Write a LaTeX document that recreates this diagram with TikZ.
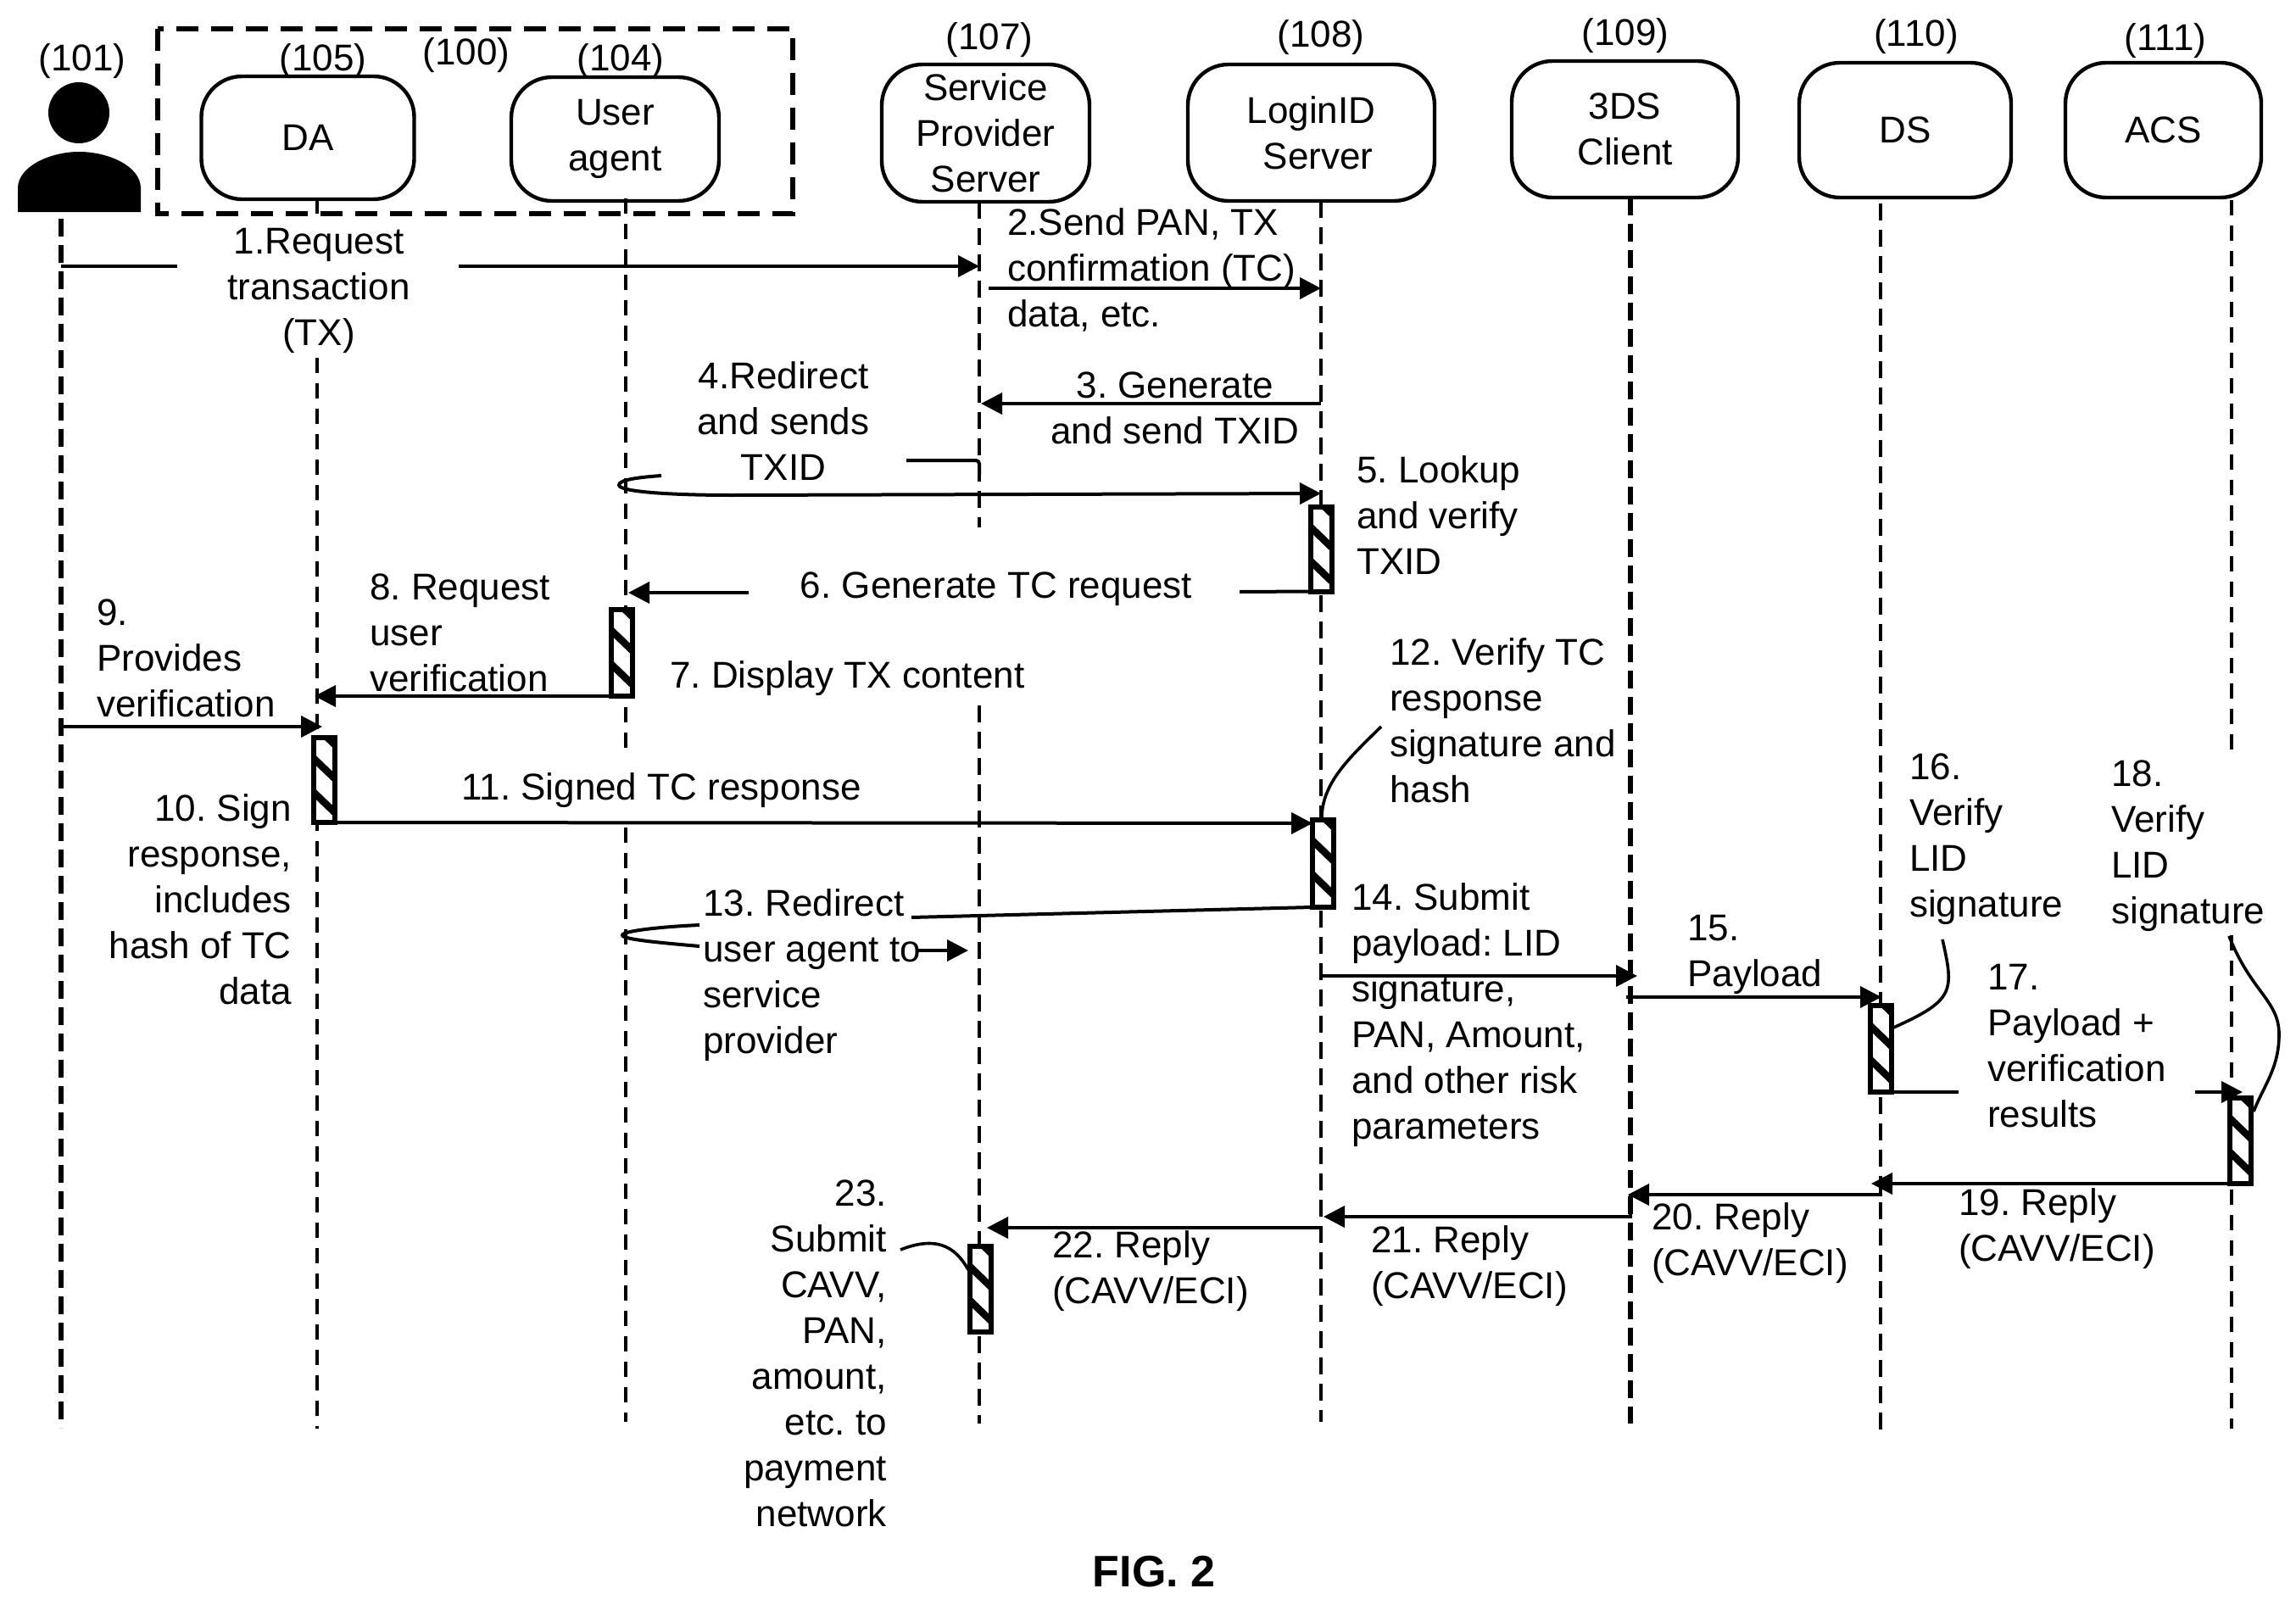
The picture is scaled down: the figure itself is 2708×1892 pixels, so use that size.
\documentclass[tikz,border=0pt]{standalone}
\usepackage{fontspec}
\setmainfont{Liberation Sans}
\usetikzlibrary{arrows.meta}
\frenchspacing
\tikzset{
  base font/.style={font=\fontsize{44}{54}\selectfont\frenchspacing},
  sysbox/.style={draw,line width=4.4,rounded corners=48,inner sep=0,align=center,base font},
  ref/.style={inner sep=0,base font},
  lab/.style={inner sep=0,align=left,anchor=west,base font},
  labr/.style={inner sep=0,align=right,anchor=east,base font},
  labc/.style={inner sep=0,align=center,base font},
  life/.style={line width=3.2,dash pattern=on 18pt off 12pt},
  lifem/.style={line width=4,dash pattern=on 20pt off 11pt},
  lifeb/.style={line width=5.5,dash pattern=on 21pt off 10pt},
  conn/.style={line width=4},
  arr/.style={line width=4,-{Triangle[length=25pt,width=25pt]}},
  lead/.style={line width=3.6},
  actbox/.style={draw,line width=6,fill=white,inner sep=0,outer sep=0,minimum width=25,
    path picture={
      \foreach \k in {-3,...,2}{
        \draw[line width=8.5]
          ([yshift=\k*40pt-24pt]path picture bounding box.north west) --
          ([yshift=\k*40pt-48pt]path picture bounding box.north east);
      }
    }},
}
\begin{document}
\begin{tikzpicture}[x=1pt,y=-1pt]
\useasboundingbox (0,0) rectangle (2708,1892);
\fill[white] (0,0) rectangle (2708,1892);

% lifelines
\coordinate (lU1) at (72,258);   \coordinate (lU2) at (72,1684);
\coordinate (lDa) at (374,235);  \coordinate (lDb) at (374,252);
\coordinate (lDc) at (374,422);  \coordinate (lDd) at (374,1685);
\coordinate (lAa) at (738,234);  \coordinate (lAb) at (738,893);
\coordinate (lAc) at (738,976);  \coordinate (lAd) at (738,1677);
\coordinate (lSa) at (1155,238); \coordinate (lSb) at (1155,622);
\coordinate (lSc) at (1155,832); \coordinate (lSd) at (1155,1679);
\coordinate (lLa) at (1558,237); \coordinate (lLb) at (1558,1677);
\coordinate (lCa) at (1923,233); \coordinate (lCb) at (1923,1679);
\coordinate (lDSa) at (2218,240);\coordinate (lDSb) at (2218,1689);
\coordinate (lACa) at (2632,236);\coordinate (lACb) at (2632,893);
\coordinate (lACc) at (2632,1103);\coordinate (lACd) at (2632,1685);
\draw[lifeb] (lU1) -- (lU2);
\draw[life] (lDa) -- (lDb);
\draw[life] (lDc) -- (lDd);
\draw[life] (lAa) -- (lAb);
\draw[life] (lAc) -- (lAd);
\draw[lifem] (lSa) -- (lSb);
\draw[lifem] (lSc) -- (lSd);
\draw[lifem] (lLa) -- (lLb);
\draw[lifeb] (lCa) -- (lCb);
\draw[lifem] (lDSa) -- (lDSb);
\draw[life] (lACa) -- (lACb);
\draw[life] (lACc) -- (lACd);

% user figure
\fill (93,133) circle (36);
\fill (21,250) -- (21,222) .. controls (21,196) and (60,179) .. (93,179)
      .. controls (128,179) and (166,196) .. (166,222) -- (166,250) -- cycle;

% dashed group
\draw[line width=6,dash pattern=on 26pt off 15pt] (186,34) rectangle (935,252);

% system boxes
\node[sysbox,minimum width=251,minimum height=145] (da)  at (363,162.5) {DA};
\node[sysbox,minimum width=245,minimum height=146] (ua)  at (725.5,164) {User\\agent};
\node[sysbox,minimum width=245,minimum height=162] (sp)  at (1162.5,157) {Service\\Provider\\Server};
\node[sysbox,minimum width=291,minimum height=161] (lg)  at (1546.5,156.5) {LoginID\\\hspace*{16pt}Server};
\node[sysbox,minimum width=267,minimum height=161] (tds) at (1916.5,152.5) {3DS\\Client};
\node[sysbox,minimum width=250,minimum height=159] (ds)  at (2247,153.5) {DS};
\node[sysbox,minimum width=231,minimum height=159] (acs) at (2551.5,153.5) {ACS};

% references
\node[ref] (r101) at (97,72) {(101)};
\node[ref] (r105) at (381,72) {(105)};
\node[ref] (r100) at (550,65) {(100)};
\node[ref] (r104) at (732,72) {(104)};
\node[ref] (r107) at (1167,47) {(107)};
\node[ref] (r108) at (1558,44) {(108)};
\node[ref] (r109) at (1917,42) {(109)};
\node[ref] (r110) at (2260,43) {(110)};
\node[ref] (r111) at (2554,48) {(111)};

% activation bars
\node[actbox,minimum height=100] (b5)  at (1558,647.5) {};
\node[actbox,minimum height=102] (b7)  at (733,770) {};
\node[actbox,minimum height=100] (b10) at (382,920) {};
\node[actbox,minimum height=103] (b12) at (1560,1018.5) {};
\node[actbox,minimum height=102] (b16) at (2218.5,1237) {};
\node[actbox,minimum height=101] (b18) at (2642.5,1345.5) {};
\node[actbox,minimum height=101] (b23) at (1156.5,1520.5) {};

% message coordinates
\coordinate (m1a) at (72,314);    \coordinate (m1b) at (209,314);
\coordinate (m1c) at (541,314);   \coordinate (m1d) at (1155,314);
\coordinate (m2a) at (1166,340);  \coordinate (m2b) at (1558,340);
\coordinate (m3a) at (1558,476);  \coordinate (m3b) at (1157,476);
\coordinate (m4a) at (1155,560);  \coordinate (m4c) at (1155,543);
\coordinate (m4b) at (1069,543);  \coordinate (m4d) at (780,561);
\coordinate (m4e) at (730,572);   \coordinate (m4f) at (864,584);
\coordinate (m4g) at (1558,582);
\coordinate (m6a) at (883,699);   \coordinate (m6b) at (741,699);
\coordinate (m6c) at (1462,698);
\coordinate (m8)  at (371,821);
\coordinate (m9a) at (72,857);    \coordinate (m9b) at (380,857);
\coordinate (m11) at (1548,971);
\coordinate (m13a) at (1075,1082);\coordinate (m13b) at (825,1091);
\coordinate (m13c) at (734,1103); \coordinate (m13d) at (825,1116);
\coordinate (m13e) at (1081,1121);\coordinate (m13f) at (1142,1121);
\coordinate (m14a) at (1558,1151);\coordinate (m14b) at (1931,1151);
\coordinate (m15a) at (1918,1176);\coordinate (m15b) at (2219,1176);
\coordinate (m17a) at (2310,1288);\coordinate (m17b) at (2589,1288);
\coordinate (m17c) at (2645,1288);
\coordinate (m19) at (2207,1396);
\coordinate (m20a) at (2218,1395);\coordinate (m20b) at (2218,1409);\coordinate (m20c) at (1920,1409);
\coordinate (m21a) at (1923,1409);\coordinate (m21b) at (1923,1435);\coordinate (m21c) at (1561,1435);
\coordinate (m22a) at (1558,1448);\coordinate (m22b) at (1164,1448);

% messages
\draw[conn] (m1a) -- (m1b);
\draw[arr]  (m1c) -- (m1d);
\draw[arr]  (m2a) -- (m2b);
\draw[arr]  (m3a) -- (m3b);
\draw[conn,rounded corners=4] (m4a) -- (m4c) -- (m4b);
\draw[arr]  (m4d) .. controls (752,563) and (730,566) .. (m4e)
            .. controls (730,580) and (790,584) .. (m4f) -- (m4g);
\draw[arr]  (m6a) -- (m6b);
\draw[conn] (b5.south west) -- (m6c);
\draw[arr]  (b7.south west) -- (m8);
\draw[arr]  (m9a) -- (m9b);
\draw[arr]  (b10.south east) -- (m11);
\draw[conn] (b12.south west) -- (m13a);
\draw[conn] (m13b) .. controls (780,1093) and (734,1098) .. (m13c)
            .. controls (734,1108) and (780,1112) .. (m13d);
\draw[arr]  (m13e) -- (m13f);
\draw[arr]  (m14a) -- (m14b);
\draw[arr]  (m15a) -- (m15b);
\draw[conn] (b16.south east) -- (m17a);
\draw[arr]  (m17b) -- (m17c);
\draw[arr]  (b18.south east) -- (m19);
\draw[arr]  (m20a) -- (m20b) -- (m20c);
\draw[arr]  (m21a) -- (m21b) -- (m21c);
\draw[arr]  (m22a) -- (m22b);

% leaders
\draw[lead] (b12.north) ++(-1,0) .. controls (1558,925) and (1590,895) .. (1629,857);
\draw[lead] (2291,1108) .. controls (2305,1170) and (2305,1180) .. (b16.east |- 0,1213);
\draw[lead] (2629,1104) .. controls (2655,1170) and (2688,1180) .. (2688,1220)
            .. controls (2688,1260) and (2670,1280) .. (2658,1311);
\draw[lead] (1062,1474) .. controls (1110,1455) and (1130,1475) .. (1144,1501);

% labels
\node[labc] (t1)  at (376,343) {1.Request\\transaction\\(TX)};
\node[lab]  (t2)  at (1188,318) {2.Send PAN, TX\\confirmation (TC)\\data, etc.};
\node[labc] (t3)  at (1386,481) {3. Generate\\and send TXID};
\node[labc] (t4)  at (924,497) {4.Redirect\\and sends\\TXID};
\node[lab]  (t5)  at (1600,608) {5. Lookup\\and verify\\TXID};
\node[labc] (t6)  at (1175,695) {6. Generate TC request};
\node[lab]  (t7)  at (790,800) {7. Display TX content};
\node[lab]  (t8)  at (436,746) {8. Request\\user\\verification};
\node[lab]  (t9)  at (114,776) {9.\\Provides\\verification};
\node[labr] (t10) at (344,1061) {10. Sign\\response,\\includes\\hash of TC\\data};
\node[labc] (t11) at (780,932) {11. Signed TC response};
\node[lab]  (t12) at (1639,850) {12. Verify TC\\response\\signature and\\hash};
\node[lab]  (t13) at (829,1150) {13. Redirect\\user agent to\\service\\provider};
\node[lab]  (t14) at (1594,1197) {14. Submit\\payload: LID\\signature,\\PAN, Amount,\\and other risk\\parameters};
\node[lab]  (t15) at (1990,1126) {15.\\Payload};
\node[lab]  (t16) at (2252,990) {16.\\Verify\\LID\\signature};
\node[lab]  (t17) at (2344,1234) {17.\\Payload +\\verification\\results};
\node[lab]  (t18) at (2490,998) {18.\\Verify\\LID\\signature};
\node[lab]  (t19) at (2310,1449) {19. Reply\\(CAVV/ECI)};
\node[lab]  (t20) at (1948,1466) {20. Reply\\(CAVV/ECI)};
\node[lab]  (t21) at (1617,1493) {21. Reply\\(CAVV/ECI)};
\node[lab]  (t22) at (1241,1499) {22. Reply\\(CAVV/ECI)};
\node[labr] (t23) at (1046,1596) {23.\\Submit\\CAVV,\\PAN,\\amount,\\etc. to\\payment\\network};
\node[inner sep=0,font=\fontsize{52}{60}\selectfont\bfseries] (fig) at (1361,1854) {FIG. 2};
\end{tikzpicture}
\end{document}
